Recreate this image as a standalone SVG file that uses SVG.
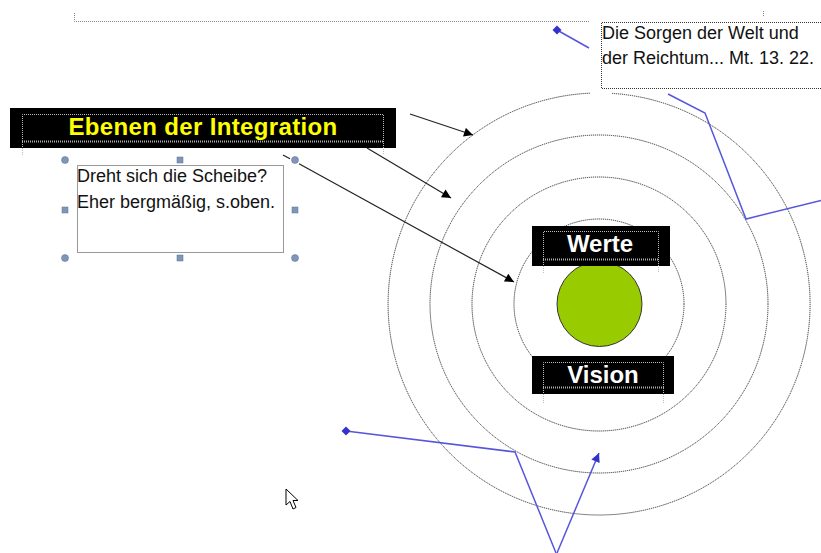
<svg xmlns="http://www.w3.org/2000/svg" width="821" height="553" viewBox="0 0 821 553">
<style>
.ring{fill:none;stroke:#333;stroke-width:1;stroke-dasharray:1.2 0.8}
.dot{fill:none;stroke:#888;stroke-width:1;stroke-dasharray:1 1}
.dotd{fill:none;stroke:#333;stroke-width:1;stroke-dasharray:1 1}
.dotw{fill:none;stroke:#bbb;stroke-width:1;stroke-dasharray:1 1}
.blk{fill:#000}
.hnd{fill:#7f96b8;stroke:#5a7090;stroke-width:0.5}
.txt{font-family:"Liberation Sans",Arial,sans-serif;font-size:18px;fill:#111}
.lbl{font-family:"Liberation Sans",Arial,sans-serif;font-weight:bold;font-size:24px;fill:#fff;text-anchor:middle}
.conn{stroke:#222;stroke-width:1.2;fill:none}
.blue{stroke:#5656dd;stroke-width:1.5;fill:none}
</style>
<defs>
<marker id="ab" viewBox="0 0 10 10" refX="10" refY="5" markerWidth="11" markerHeight="9" markerUnits="userSpaceOnUse" orient="auto"><path d="M0,0 L10,5 L0,10 z" fill="#000"/></marker>
<marker id="au" viewBox="0 0 10 10" refX="10" refY="5" markerWidth="11" markerHeight="9" markerUnits="userSpaceOnUse" orient="auto"><path d="M0,0 L10,5 L0,10 z" fill="#3333cc"/></marker>
</defs>
<rect width="821" height="553" fill="#fff"/>

<g id="frame-top">
<path class="dot" d="M74.5,13 V21.5 H589"/>
<path class="dot" d="M763.5,11 V17"/>
</g>

<g id="rings">
<path class="ring" d="M612,93.4 A211,211 0 1 1 590,93.2"/>
<circle class="ring" cx="599" cy="304" r="169"/>
<circle class="ring" cx="599" cy="304" r="127"/>
<circle class="ring" cx="599" cy="304" r="85"/>
</g>

<g id="core">
<circle cx="599.5" cy="304" r="42.5" fill="#99cc00" stroke="#333" stroke-width="1"/>
</g>

<g id="connectors">
<line class="conn" x1="410" y1="114" x2="473" y2="135" marker-end="url(#ab)"/>
<line class="conn" x1="367" y1="148" x2="451" y2="198" marker-end="url(#ab)"/>
<line class="conn" x1="283" y1="155" x2="290" y2="158.8"/>
<line class="conn" x1="299" y1="163.8" x2="514" y2="282" marker-end="url(#ab)"/>
<path class="blue" d="M557,30 L589,48"/>
<path class="blue" d="M668,94 L705,113 L746,219 L821,200.5"/>
<path class="blue" d="M346,431 L515,452 L556,553"/>
<line class="blue" x1="557" y1="553" x2="599" y2="453" marker-end="url(#au)"/>
<path d="M557,25.5 L561.5,30 L557,34.5 L552.5,30 z" fill="#3333cc"/>
<path d="M346,426.5 L350.5,431 L346,435.5 L341.5,431 z" fill="#3333cc"/>
</g>

<g id="title">
<rect class="blk" x="10" y="108" width="386" height="40"/>
<path class="dotw" d="M22.5,155 V114.5 H383.5 V155"/>
<line x1="22" y1="141.5" x2="384" y2="141.5" stroke="#aaa" stroke-width="2" stroke-dasharray="1 1"/>
<text x="203" y="135" font-family="'Liberation Sans',Arial,sans-serif" font-weight="bold" font-size="24" letter-spacing="0.35" fill="#ffff00" text-anchor="middle">Ebenen der Integration</text>
</g>

<g id="note-left">
<rect class="dotd" x="77.5" y="165.5" width="206" height="87"/>
<text class="txt" x="77" y="182">Dreht sich die Scheibe?</text>
<text class="txt" x="77" y="208">Eher bergmäßig, s.oben.</text>
<circle class="hnd" cx="65" cy="160" r="3.5"/>
<circle class="hnd" cx="295" cy="160" r="3.5"/>
<circle class="hnd" cx="65" cy="258" r="3.5"/>
<circle class="hnd" cx="295" cy="258" r="3.5"/>
<rect class="hnd" x="177" y="157" width="6" height="6"/>
<rect class="hnd" x="62" y="207" width="6" height="6"/>
<rect class="hnd" x="292" y="207" width="6" height="6"/>
<rect class="hnd" x="177" y="255" width="6" height="6"/>
</g>

<g id="note-right">
<path class="dotd" d="M821,22.5 H601.5 V88.5 H821"/>
<text class="txt" x="602" y="39">Die Sorgen der Welt und</text>
<text class="txt" x="602" y="64">der Reichtum... Mt. 13. 22.</text>
</g>

<g id="werte">
<rect class="blk" x="532" y="226" width="138" height="40"/>
<path class="dotw" d="M543.5,273 V231.5 H658.5 V273"/>
<line x1="543" y1="259.5" x2="659" y2="259.5" stroke="#aaa" stroke-width="2" stroke-dasharray="1 1"/>
<text class="lbl" x="600" y="252">Werte</text>
</g>

<g id="vision">
<rect class="blk" x="532" y="356" width="142" height="38"/>
<path class="dotw" d="M543.5,403 V362.5 H663.5 V403"/>
<line x1="543" y1="387.5" x2="664" y2="387.5" stroke="#aaa" stroke-width="2" stroke-dasharray="1 1"/>
<text class="lbl" x="603" y="383">Vision</text>
</g>

<g id="cursor">
<path d="M286,489 V505 L290,501.5 L293,509 L296,507.5 L293,500.5 L298,500.5 Z" fill="#fff" stroke="#000" stroke-width="1"/>
</g>
</svg>
